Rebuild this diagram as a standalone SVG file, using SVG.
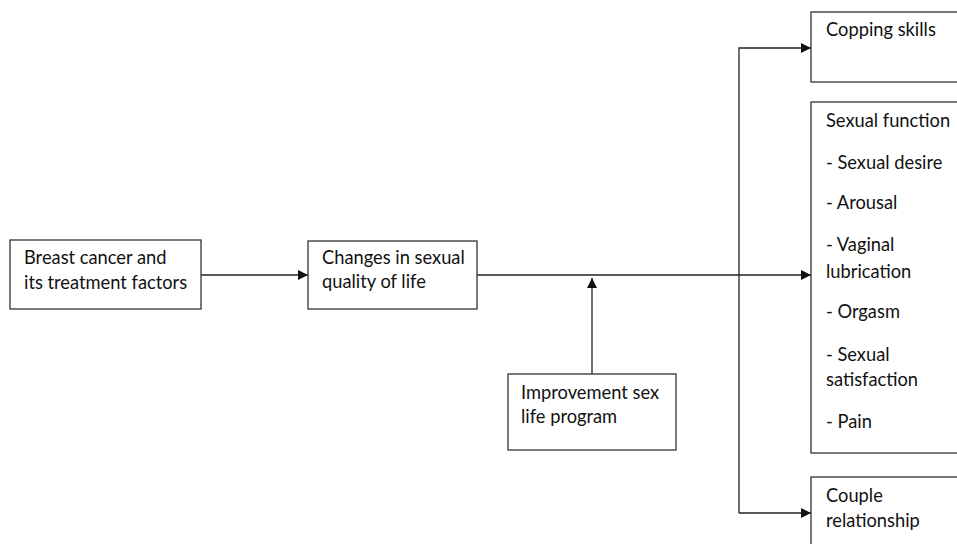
<svg xmlns="http://www.w3.org/2000/svg" width="957" height="544" viewBox="0 0 957 544">
<style>
.box{fill:#fff;stroke:#333;stroke-width:1.3}
.t{font-family:Lato,"Open Sans",sans-serif;font-size:18.3px;fill:#111}
.c{fill:none;stroke:#222;stroke-width:1.3}
</style>
<defs>
<marker id="ah" viewBox="0 0 10 10" refX="10" refY="5" markerWidth="10" markerHeight="10" markerUnits="userSpaceOnUse" orient="auto">
<path d="M0,0 L10,5 L0,10 Z" fill="#111"/>
</marker>
</defs>
<rect width="957" height="544" fill="#fff"/>
<g id="connectors">
<path class="c" d="M201,275 H308" marker-end="url(#ah)"/>
<path class="c" d="M477,275 H811" marker-end="url(#ah)"/>
<path class="c" d="M592,374 V278" marker-end="url(#ah)"/>
<path class="c" d="M739,513 V48 H811" marker-end="url(#ah)"/>
<path class="c" d="M739,513 H811" marker-end="url(#ah)"/>
</g>
<g id="breast">
<rect class="box" x="10" y="240" width="191" height="69"/>
<text class="t" x="24" y="264">Breast cancer and</text>
<text class="t" x="24" y="289">its treatment factors</text>
</g>
<g id="changes">
<rect class="box" x="308" y="241" width="169" height="68"/>
<text class="t" x="322" y="264">Changes in sexual</text>
<text class="t" x="322" y="288">quality of life</text>
</g>
<g id="improvement">
<rect class="box" x="508" y="374" width="168" height="76"/>
<text class="t" x="521" y="399">Improvement sex</text>
<text class="t" x="521" y="423">life program</text>
</g>
<g id="copping">
<rect class="box" x="811" y="12" width="160" height="70"/>
<text class="t" x="826" y="36">Copping skills</text>
</g>
<g id="sexual">
<rect class="box" x="811" y="102" width="160" height="351"/>
<text class="t" x="826" y="127">Sexual function</text>
<text class="t" x="826" y="169">- Sexual desire</text>
<text class="t" x="826" y="209">- Arousal</text>
<text class="t" x="826" y="251">- Vaginal</text>
<text class="t" x="826" y="278">lubrication</text>
<text class="t" x="826" y="318">- Orgasm</text>
<text class="t" x="826" y="361">- Sexual</text>
<text class="t" x="826" y="386">satisfaction</text>
<text class="t" x="826" y="428">- Pain</text>
</g>
<g id="couple">
<rect class="box" x="811" y="477" width="160" height="80"/>
<text class="t" x="826" y="502">Couple</text>
<text class="t" x="826" y="527">relationship</text>
</g>
</svg>
